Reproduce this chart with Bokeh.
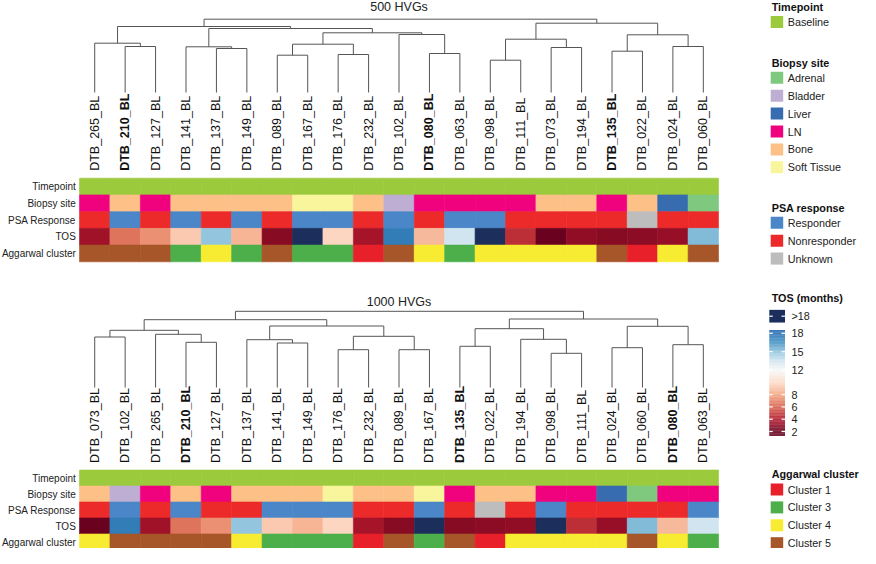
import numpy as np
from bokeh.plotting import figure
from bokeh.models import Range1d, ColumnDataSource, LinearColorMapper
from bokeh.transform import factor_cmap
from bokeh.core.properties import value
from bokeh.embed import file_html
from bokeh.resources import INLINE

# ---------------- data ----------------
SAMPLES = ["DTB_265_BL", "DTB_210_BL", "DTB_127_BL", "DTB_141_BL", "DTB_137_BL", "DTB_149_BL",
           "DTB_089_BL", "DTB_167_BL", "DTB_176_BL", "DTB_232_BL", "DTB_102_BL", "DTB_080_BL",
           "DTB_063_BL", "DTB_098_BL", "DTB_111_BL", "DTB_073_BL", "DTB_194_BL", "DTB_135_BL",
           "DTB_022_BL", "DTB_024_BL", "DTB_060_BL"]
BOLD_SAMPLES = ["DTB_210_BL", "DTB_080_BL", "DTB_135_BL"]
TIMEPOINT = ["Baseline"] * 21
BIOPSY = ["LN", "Bone", "LN", "Bone", "Bone", "Bone", "Bone", "Soft Tissue", "Soft Tissue", "Bone",
          "Bladder", "LN", "LN", "LN", "LN", "Bone", "Bone", "LN", "Bone", "Liver", "Adrenal"]
PSA = ["Nonresponder", "Responder", "Nonresponder", "Responder", "Nonresponder", "Responder",
       "Nonresponder", "Responder", "Responder", "Nonresponder", "Responder", "Nonresponder",
       "Responder", "Responder", "Nonresponder", "Nonresponder", "Nonresponder", "Nonresponder",
       "Unknown", "Nonresponder", "Nonresponder"]
TOS = [3.5, 6.6, 7.4, 9.3, 15.0, 8.6, 2.9, 20.0, 9.8, 3.7, 17.5, 8.7, 13.5, 20.0, 4.6, 2.1, 3.1,
       2.9, 3.0, 3.3, 15.3]
AGG = ["Cluster 5", "Cluster 5", "Cluster 5", "Cluster 3", "Cluster 4", "Cluster 3", "Cluster 5",
       "Cluster 3", "Cluster 3", "Cluster 1", "Cluster 5", "Cluster 4", "Cluster 3", "Cluster 4",
       "Cluster 4", "Cluster 4", "Cluster 4", "Cluster 5", "Cluster 1", "Cluster 4", "Cluster 5"]

# dendrogram merges: (left, right, height); ints refer to earlier merges
MERGES_500 = [
    ("DTB_210_BL", "DTB_127_BL", 46.0),
    ("DTB_265_BL", 0, 49.3),
    ("DTB_137_BL", "DTB_149_BL", 44.0),
    ("DTB_141_BL", 2, 45.7),
    ("DTB_089_BL", "DTB_167_BL", 37.3),
    ("DTB_176_BL", "DTB_232_BL", 38.0),
    (4, 5, 48.3),
    ("DTB_080_BL", "DTB_063_BL", 39.0),
    ("DTB_102_BL", 7, 58.0),
    (6, 8, 59.7),
    (3, 9, 64.0),
    (1, 10, 66.0),
    ("DTB_098_BL", "DTB_111_BL", 32.3),
    ("DTB_073_BL", "DTB_194_BL", 45.0),
    (12, 13, 53.3),
    ("DTB_135_BL", "DTB_022_BL", 41.3),
    ("DTB_024_BL", "DTB_060_BL", 46.0),
    (15, 16, 57.7),
    (14, 17, 69.3),
    (11, 18, 73.3),
]
MERGES_1000 = [
    ("DTB_073_BL", "DTB_102_BL", 50.5),
    ("DTB_210_BL", "DTB_127_BL", 45.2),
    ("DTB_265_BL", 1, 53.2),
    (0, 2, 57.2),
    ("DTB_141_BL", "DTB_149_BL", 44.5),
    ("DTB_137_BL", 4, 47.8),
    ("DTB_176_BL", "DTB_232_BL", 37.8),
    ("DTB_089_BL", "DTB_167_BL", 37.8),
    (6, 7, 51.2),
    (5, 8, 61.5),
    (3, 9, 67.8),
    ("DTB_135_BL", "DTB_022_BL", 41.2),
    ("DTB_098_BL", "DTB_111_BL", 34.2),
    ("DTB_194_BL", 12, 48.2),
    (11, 13, 58.8),
    ("DTB_024_BL", "DTB_060_BL", 39.8),
    ("DTB_080_BL", "DTB_063_BL", 42.8),
    (15, 16, 61.2),
    (14, 17, 68.5),
    (10, 18, 76.2),
]

TRACK_NAMES = ["Timepoint", "Biopsy site", "PSA Response", "TOS", "Aggarwal cluster"]

TIMEPOINT_LEVELS = ["Baseline"]
TIMEPOINT_COLORS = ["#9BCA3C"]
BIOPSY_LEVELS = ["Adrenal", "Bladder", "Liver", "LN", "Bone", "Soft Tissue"]
BIOPSY_COLORS = ["#7FC97F", "#BEAED4", "#386CB0", "#F0027F", "#FDC086", "#F9F59C"]
PSA_LEVELS = ["Responder", "Nonresponder", "Unknown"]
PSA_COLORS = ["#4A86C8", "#EC2A2A", "#BDBDBD"]
AGG_LEVELS = ["Cluster 1", "Cluster 3", "Cluster 4", "Cluster 5"]
AGG_COLORS = ["#E8202A", "#4DAF4A", "#F7EC31", "#A65628"]

TOS_ANCHOR_VALUES = [1.3, 2, 4, 6, 8, 10, 12, 13.5, 15, 16.5, 18.5]
TOS_ANCHOR_COLORS = ["#67001F", "#67001F", "#B2182B", "#D6604D", "#F4A582", "#FDDBC7", "#F7F7F7",
                     "#D1E5F0", "#92C5DE", "#4393C3", "#2166AC"]
TOS_OVER_COLOR = "#1B2E5C"
TOS_LOW, TOS_HIGH = 1.3, 18.5
TOS_TICKS = [18, 15, 12, 8, 6, 4, 2]

# ---------------- layout ----------------
W, H = 860, 548
COL_W = 30.43          # px per sample column
X0 = 79.0              # px of heatmap left edge
FONT = value("Liberation Sans")


def px2x(px):
    return (px - X0) / COL_W


def hex2rgb(h):
    h = h.lstrip("#")
    return np.array([int(h[i:i + 2], 16) for i in (0, 2, 4)], dtype=float)


def make_palette(n=256):
    vals = TOS_LOW + (TOS_HIGH - TOS_LOW) * (np.arange(n) + 0.5) / n
    rgbs = np.array([hex2rgb(c) for c in TOS_ANCHOR_COLORS])
    out = []
    for v in vals:
        r = np.interp(v, TOS_ANCHOR_VALUES, rgbs[:, 0])
        g = np.interp(v, TOS_ANCHOR_VALUES, rgbs[:, 1])
        b = np.interp(v, TOS_ANCHOR_VALUES, rgbs[:, 2])
        out.append("#%02x%02x%02x" % (int(round(r)), int(round(g)), int(round(b))))
    return out


TOS_PALETTE = make_palette()
tos_mapper = LinearColorMapper(palette=TOS_PALETTE, low=TOS_LOW, high=TOS_HIGH,
                               high_color=TOS_OVER_COLOR, low_color=TOS_PALETTE[0])

p = figure(width=W, height=H, x_range=Range1d(px2x(0), px2x(W)), y_range=Range1d(H, 0),
           output_backend="svg", toolbar_location=None, x_axis_location=None,
           y_axis_location=None, min_border=0)
p.grid.visible = False
p.outline_line_color = None
p.background_fill_color = "white"
p.border_fill_color = "white"


def leaf_order(merges):
    def walk(c):
        if isinstance(c, str):
            return [c]
        a, b, _ = merges[c]
        return walk(a) + walk(b)
    return walk(len(merges) - 1)


def draw_panel(merges, title, title_y, leaf_base, label_bottom, hm_top, row_h):
    order = leaf_order(merges)
    idx = [SAMPLES.index(s) for s in order]
    n = len(order)
    xs = [i + 0.5 for i in range(n)]
    pos = dict(zip(order, xs))

    # dendrogram
    nodes = []
    x0, y0, x1, y1 = [], [], [], []

    def child(c):
        if isinstance(c, str):
            return pos[c], leaf_base
        return nodes[c]

    for a, b, h in merges:
        xa, ya = child(a)
        xb, yb = child(b)
        y = leaf_base - h
        x0 += [xa, xb, xa]
        y0 += [ya, yb, y]
        x1 += [xa, xb, xb]
        y1 += [y, y, y]
        nodes.append(((xa + xb) / 2, y))
    p.segment(x0=x0, y0=y0, x1=x1, y1=y1, line_color="#555555", line_width=1)

    # title
    p.text(x=[n / 2], y=[title_y], text=[title], text_align="center", text_baseline="middle",
           text_font=FONT, text_font_size="12.5px", text_color="#222222")

    # sample labels
    for bold in (False, True):
        sel = [i for i, s in enumerate(order) if (s in BOLD_SAMPLES) == bold]
        p.text(x=[xs[i] for i in sel], y=[label_bottom] * len(sel), text=[order[i] for i in sel],
               angle=np.pi / 2, text_align="left", text_baseline="middle", text_font=FONT,
               text_font_size="12.5px", text_font_style="bold" if bold else "normal",
               text_color="#111111")

    # heatmap tracks
    tracks = [
        ([TIMEPOINT[i] for i in idx], TIMEPOINT_LEVELS, TIMEPOINT_COLORS),
        ([BIOPSY[i] for i in idx], BIOPSY_LEVELS, BIOPSY_COLORS),
        ([PSA[i] for i in idx], PSA_LEVELS, PSA_COLORS),
        ([TOS[i] for i in idx], None, None),
        ([AGG[i] for i in idx], AGG_LEVELS, AGG_COLORS),
    ]
    for r, (vals, levels, colors) in enumerate(tracks):
        yc = hm_top + (r + 0.5) * row_h
        src = ColumnDataSource(dict(x=xs, y=[yc] * n, v=vals))
        if levels is None:
            cmap = {"field": "v", "transform": tos_mapper}
        else:
            cmap = factor_cmap("v", palette=colors, factors=levels)
        p.rect(x="x", y="y", width=1, height=row_h, source=src, fill_color=cmap,
               line_color=cmap, line_width=0.6)
    p.text(x=[px2x(X0 - 3.7)] * 5, y=[hm_top + (r + 0.5) * row_h for r in range(5)],
           text=TRACK_NAMES, text_align="right", text_baseline="middle", text_font=FONT,
           text_font_size="10px", text_color="#222222")


draw_panel(MERGES_500, "500 HVGs", 6.7, 92.0, 170.3, 177.7, 16.72)
draw_panel(MERGES_1000, "1000 HVGs", 301.2, 387.0, 462.5, 469.5, 16.0)

# ---------------- legends ----------------
LG_SHIFT = -2.5
LG_SW_LEFT = 772.7 + LG_SHIFT
LG_SW_W = 12.5
LG_SW_H = 12.0
LG_TEXT_X = 789.7 + LG_SHIFT
LG_TITLE_X = 773.7 + LG_SHIFT
LG_FIRST = 15.3
LG_STEP = 17.9
LG_FS = "10.8px"


def legend_title(title, y):
    p.text(x=[px2x(LG_TITLE_X)], y=[y], text=[title], text_align="left", text_baseline="middle",
           text_font=FONT, text_font_size=LG_FS, text_font_style="bold", text_color="#111111")


def legend_block(title, levels, colors, top):
    legend_title(title, top)
    ys = [top + LG_FIRST + k * LG_STEP for k in range(len(levels))]
    p.rect(x=[px2x(LG_SW_LEFT + LG_SW_W / 2)] * len(levels), y=ys, width=LG_SW_W / COL_W,
           height=LG_SW_H, fill_color=colors, line_color=None)
    p.text(x=[px2x(LG_TEXT_X)] * len(levels), y=ys, text=levels, text_align="left",
           text_baseline="middle", text_font=FONT, text_font_size=LG_FS, text_color="#222222")


legend_block("Timepoint", TIMEPOINT_LEVELS, TIMEPOINT_COLORS, 6.2)
legend_block("Biopsy site", BIOPSY_LEVELS, BIOPSY_COLORS, 62.0)
legend_block("PSA response", PSA_LEVELS, PSA_COLORS, 207.0)
legend_block("Aggarwal cluster", AGG_LEVELS, AGG_COLORS, 473.7)

# TOS colour bar
legend_title("TOS (months)", 297.7)
CB_LEFT, CB_RIGHT = 771.3 + LG_SHIFT, 787.0 + LG_SHIFT
CB_Y2 = 431.0      # px of value 2
CB_PX = 6.14       # px per month


def cb_y(v):
    return CB_Y2 - (v - 2) * CB_PX


cb_x = px2x((CB_LEFT + CB_RIGHT) / 2)
cb_w = (CB_RIGHT - CB_LEFT) / COL_W
over_y = 315.7
p.rect(x=[cb_x], y=[over_y], width=cb_w, height=12.7, fill_color=TOS_OVER_COLOR, line_color=None)
nb = 140
edges = np.linspace(TOS_LOW, TOS_HIGH, nb + 1)
mids = (edges[:-1] + edges[1:]) / 2
binh = (TOS_HIGH - TOS_LOW) / nb * CB_PX
cbsrc = ColumnDataSource(dict(x=[cb_x] * nb, y=[cb_y(v) for v in mids], v=list(mids)))
p.rect(x="x", y="y", width=cb_w, height=binh * 1.15, source=cbsrc,
       fill_color={"field": "v", "transform": tos_mapper}, line_color=None)

tick_ys = [over_y] + [cb_y(t) for t in TOS_TICKS]
p.segment(x0=[px2x(CB_LEFT)] * len(tick_ys), x1=[px2x(CB_LEFT + 3.5)] * len(tick_ys),
          y0=tick_ys, y1=tick_ys, line_color="white", line_width=1.2)
p.segment(x0=[px2x(CB_RIGHT - 3.5)] * len(tick_ys), x1=[px2x(CB_RIGHT)] * len(tick_ys),
          y0=tick_ys, y1=tick_ys, line_color="white", line_width=1.2)
p.text(x=[px2x(793.5 + LG_SHIFT)] * len(tick_ys), y=tick_ys,
       text=[">18"] + [str(t) for t in TOS_TICKS],
       text_align="left", text_baseline="middle", text_font=FONT, text_font_size=LG_FS,
       text_color="#222222")

open("out.html", "w").write(file_html(p, INLINE))
